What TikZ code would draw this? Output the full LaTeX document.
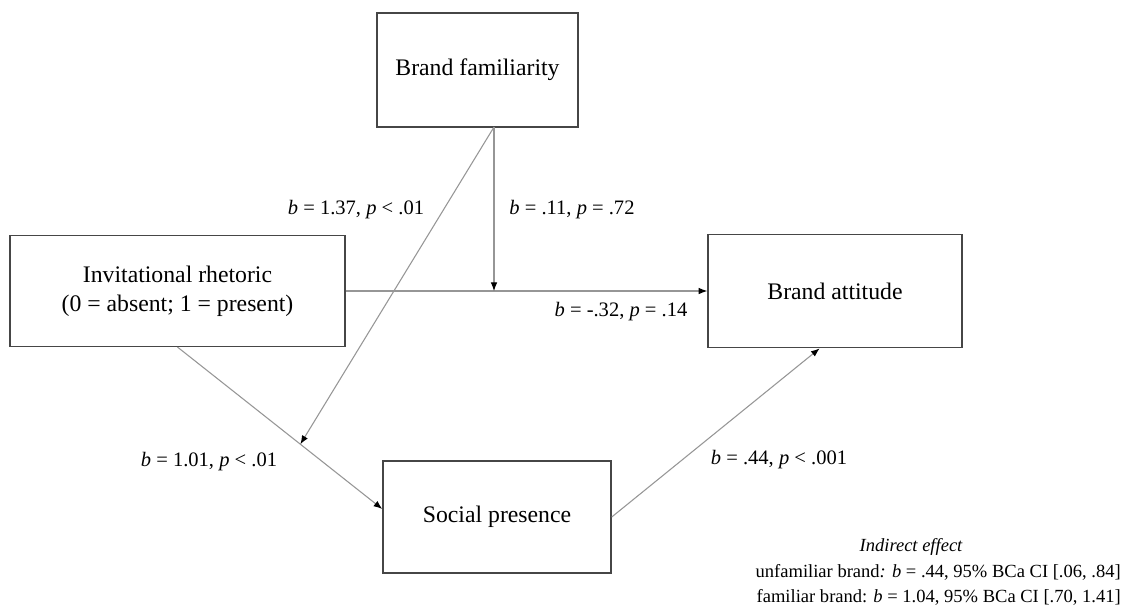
\documentclass[tikz,border=0pt]{standalone}
\usepackage{fontspec}
\setmainfont{Liberation Serif}
\usetikzlibrary{arrows.meta,calc}
\definecolor{boxgray}{RGB}{70,70,70}
\definecolor{linegray}{RGB}{150,150,150}
\tikzset{
  box/.style={draw=boxgray,line width=1.1pt,rectangle,align=center,font=\fontsize{17.8}{21.5}\selectfont},
  arr/.style={draw=linegray,line width=.8pt,-{Latex[length=6.5pt,width=5pt,color=black]}},
  lbl/.style={font=\fontsize{15.4}{18}\selectfont,inner sep=0pt}
}
\begin{document}
\begin{tikzpicture}[x=.75pt,y=-.75pt]
	\useasboundingbox (0,0) rectangle (1123,608);
	% variables
	\node[box,minimum width=150.75pt,minimum height=85.5pt] (bf) at (477.5,70) {Brand familiarity};
	\node[box,minimum width=251pt,minimum height=83pt] (ir) at (177.5,291) {Invitational rhetoric\\(0 = absent; 1 = present)};
	\node[box,minimum width=190.5pt,minimum height=85pt] (ba) at (835,291) {Brand attitude};
	\node[box,minimum width=171pt,minimum height=84pt] (sp) at (497,517) {Social presence};
	% paths
	\coordinate (bfout) at (494,127);
	\draw[arr] (ir.east) -- (ba.west);
	\coordinate (mod1) at (494,291);
	\draw[arr] (bfout) -- (mod1);
	\draw[arr] (ir.south) -- (sp.176);
	\coordinate (mod2) at ($(ir.south)!0.6!(sp.176)$);
	\draw[arr] (bfout) -- (mod2);
	\draw[arr] (sp.east) -- (ba.-105);
	% coefficients
	\node[lbl] (l1) at (356,210) {\textit{b} = 1.37, \textit{p} < .01};
	\node[lbl] (l2) at (572,210) {\textit{b} = .11, \textit{p} = .72};
	\node[lbl] (l3) at (621,312) {\textit{b} = -.32, \textit{p} = .14};
	\node[lbl] (l4) at (209,462) {\textit{b} = 1.01, \textit{p} < .01};
	\node[lbl] (l5) at (779,460) {\textit{b} = .44, \textit{p} < .001};
	% indirect effect
	\node[lbl,font=\fontsize{13.9}{16}\selectfont\itshape] (ie) at (911,547) {Indirect effect};
	\node[lbl,font=\fontsize{13.9}{18.7}\selectfont,anchor=east,align=right] (ie2) at (1121,584.5)
		{unfamiliar brand\textit{:} \textit{b} = .44, 95\% BCa CI [.06, .84]\\familiar brand: \textit{b} = 1.04, 95\% BCa CI [.70, 1.41]};
\end{tikzpicture}
\end{document}
